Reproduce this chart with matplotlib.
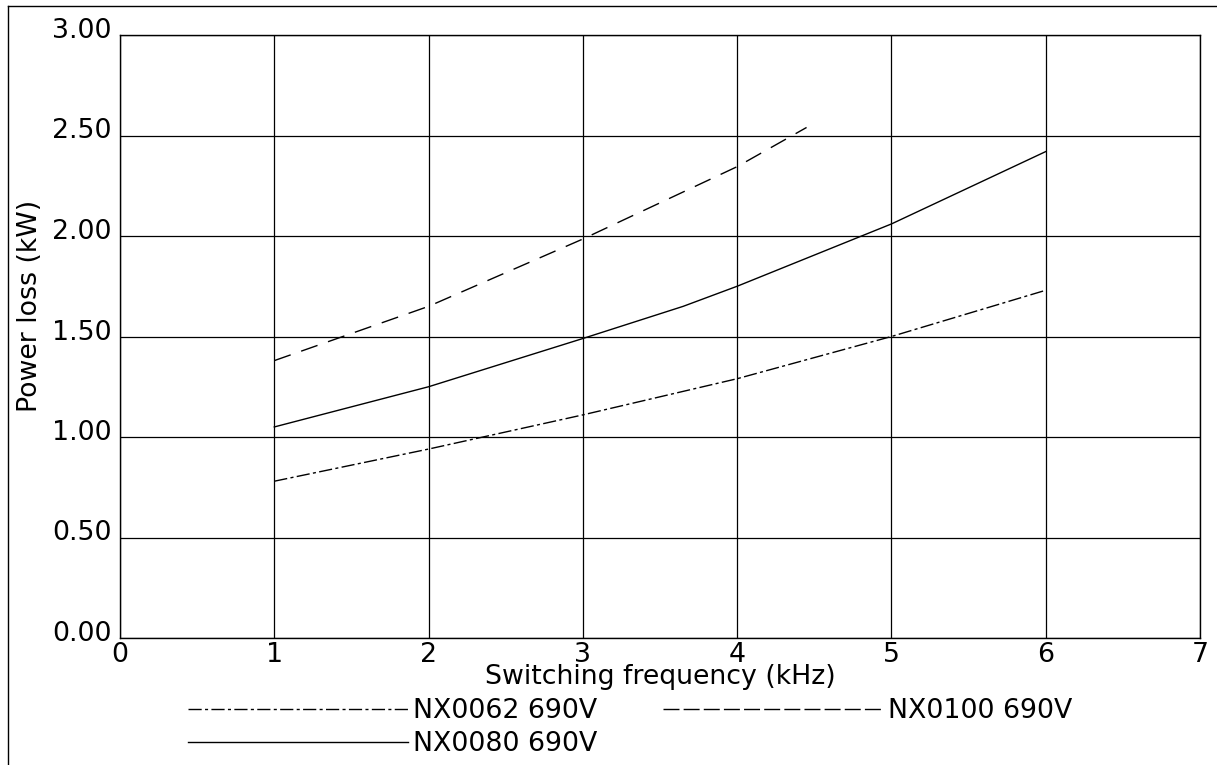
import matplotlib
matplotlib.use("Agg")
import matplotlib.pyplot as plt
from matplotlib.lines import Line2D
from matplotlib.transforms import ScaledTranslation

plt.rcParams['font.family'] = ['DejaVu Sans']

# ---- data ----
x_nx0062 = [1, 2, 3, 4, 5, 6]
y_nx0062 = [0.78, 0.94, 1.11, 1.29, 1.50, 1.73]

x_nx0080 = [1, 2, 3, 3.65, 4, 5, 6]
y_nx0080 = [1.05, 1.25, 1.49, 1.65, 1.75, 2.06, 2.42]

x_nx0100 = [1, 2, 3, 4, 4.45]
y_nx0100 = [1.38, 1.65, 1.985, 2.345, 2.54]

labels = ["NX0062 690V", "NX0080 690V", "NX0100 690V"]
x_ticks = [0, 1, 2, 3, 4, 5, 6, 7]
y_ticks = [0.0, 0.5, 1.0, 1.5, 2.0, 2.5, 3.0]
y_tick_labels = ["0.00", "0.50", "1.00", "1.50", "2.00", "2.50", "3.00"]
x_label = "Switching frequency (kHz)"
y_label = "Power loss (kW)"

W, H = 1217, 765
fig = plt.figure(figsize=(W / 100, H / 100), dpi=100)
ax = fig.add_axes([120 / W, 1 - 638 / H, 1080 / W, 603 / H])

FS = 19.3
dashdot = (0, (9.5, 2.4, 2.2, 2.4))
dashed_plot = (0, (12.5, 8.0))
dashed_leg = (0, (11.5, 3.0))

ax.plot(x_nx0062, y_nx0062, color='black', lw=1.0, linestyle=dashdot)
ax.plot(x_nx0080, y_nx0080, color='black', lw=1.0, linestyle='-')
ax.plot(x_nx0100, y_nx0100, color='black', lw=1.0, linestyle=dashed_plot)

ax.set_xlim(0, 7)
ax.set_ylim(0, 3)
ax.set_xticks(x_ticks)
ax.set_xticklabels([str(v) for v in x_ticks])
ax.set_yticks(y_ticks)
ax.set_yticklabels(y_tick_labels)
ax.grid(True, color='black', lw=0.9)
ax.set_axisbelow(True)
for s in ax.spines.values():
    s.set_color('black')
    s.set_linewidth(1.0)
ax.tick_params(axis='both', length=0, labelsize=FS, colors='black')
ax.tick_params(axis='x', pad=3)
ax.tick_params(axis='y', pad=6)
off = ScaledTranslation(0, 0.07, fig.dpi_scale_trans)
for lab in ax.get_yticklabels():
    lab.set_transform(lab.get_transform() + off)

ax.set_xlabel(x_label, fontsize=FS, labelpad=-3)
ax.set_ylabel(y_label, fontsize=FS)
ax.yaxis.set_label_coords((43 - 120) / 1080, (638 - 306) / 603)

handles = [
    Line2D([], [], color='black', lw=1.0, linestyle=dashdot),
    Line2D([], [], color='black', lw=1.0, linestyle='-'),
    Line2D([], [], color='black', lw=1.0, linestyle=dashed_leg),
]
fig.legend(handles, labels, loc='upper left',
           bbox_to_anchor=(188 / W, 1 - 698 / H), bbox_transform=fig.transFigure,
           ncol=2, frameon=False, fontsize=FS, borderpad=0, borderaxespad=0,
           handlelength=8.2, handletextpad=0.2, columnspacing=2.45,
           labelspacing=0.27)

# outer frame (left and top edges visible)
fig.add_artist(Line2D([8 / W, 8 / W], [0, 1 - 6 / H], transform=fig.transFigure,
                      color='black', lw=1.0))
fig.add_artist(Line2D([8 / W, 1], [1 - 6 / H, 1 - 6 / H], transform=fig.transFigure,
                      color='black', lw=1.0))

fig.savefig("out.png", dpi=100)
